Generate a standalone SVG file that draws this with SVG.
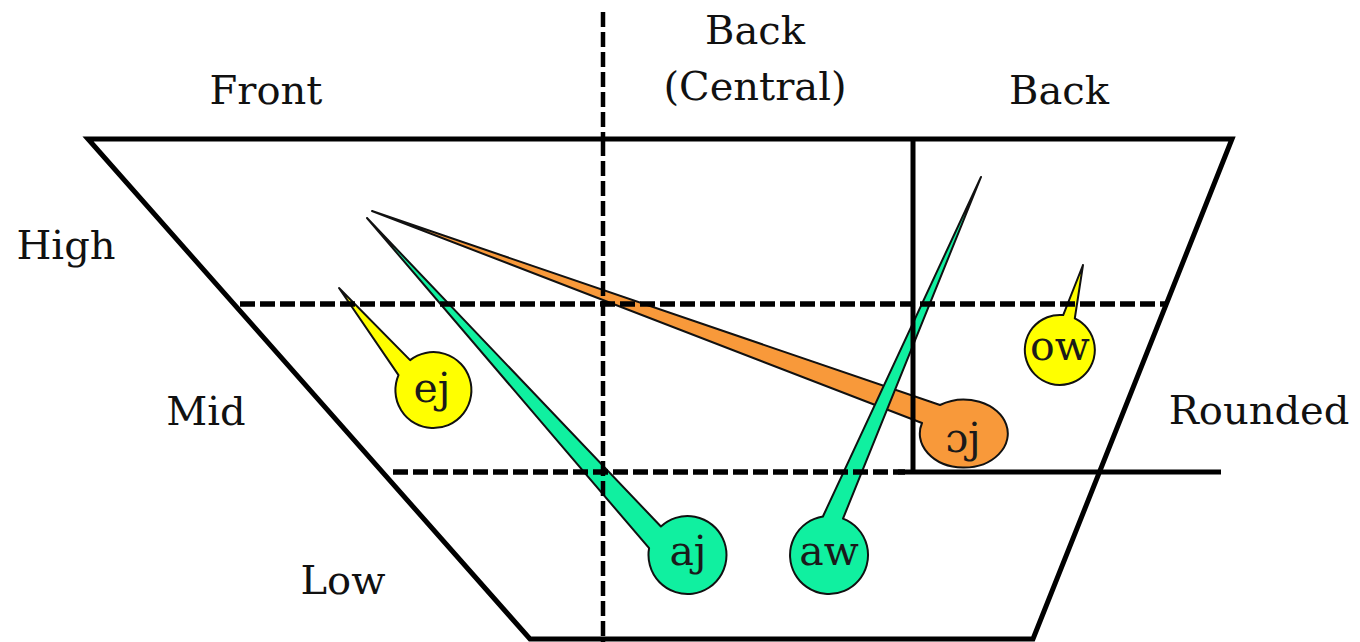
<svg xmlns="http://www.w3.org/2000/svg" width="1360" height="642" viewBox="0 0 1360 642">
<style>
.lbl{font-family:"DejaVu Serif","Liberation Serif",serif;font-size:40px;fill:#111;text-anchor:middle}
.bt{font-family:"DejaVu Serif","Liberation Serif",serif;font-size:41px;fill:#1a1a1a;text-anchor:middle}
.solid{fill:none;stroke:#000;stroke-width:5}
.dash{fill:none;stroke:#000;stroke-width:5.5;stroke-dasharray:15 5}
.vdash{fill:none;stroke:#000;stroke-width:4.5;stroke-dasharray:15 5}
.bub{stroke:#111;stroke-width:2;stroke-linejoin:round}
.y{fill:#FFFF00}.g{fill:#10F0A0}.o{fill:#F8993A}
</style>
<rect width="1360" height="642" fill="#fff"/>
<g id="bubbles">
<g id="oj">
<path class="bub o" d="M372 211 L940 405 A44 34 0 1 1 922 423 Z"/>
<text class="bt" x="963" y="452">ɔj</text>
</g>
<g id="aw">
<path class="bub g" d="M981 177 L843 518.6 A39 39 0 1 1 822.9 516.5 Z"/>
<text class="bt" x="829" y="565">aw</text>
</g>
<g id="aj">
<path class="bub g" d="M367 218 L660.9 526.5 A39 39 0 1 1 649.1 548.2 Z"/>
<text class="bt" x="688" y="565">aj</text>
</g>
<g id="ej">
<path class="bub y" d="M339 288 L410.1 360.1 A38 38 0 1 1 398.5 375.1 Z"/>
<text class="bt" x="432" y="402">ej</text>
</g>
<g id="ow">
<path class="bub y" d="M1083 265 L1074.8 318.3 A35 35 0 1 1 1063.2 315.1 Z"/>
<text class="bt" x="1060" y="360">ow</text>
</g>
</g>
<g id="grid">
<path class="solid" stroke-linejoin="miter" d="M88 139 L1232 139 L1033 639 L530 639 Z"/>
<line class="dash" x1="240" y1="304" x2="1168" y2="304"/>
<line class="dash" x1="393" y1="472" x2="905" y2="472"/>
<line class="solid" x1="898" y1="472" x2="1221" y2="472"/>
<line class="solid" stroke-width="4" x1="913" y1="139" x2="913" y2="472"/>
<line class="vdash" stroke-dasharray="8 4" x1="603" y1="12" x2="603" y2="137"/>
<line class="vdash" x1="603" y1="141" x2="603" y2="642"/>
</g>
<g id="labels">
<text class="lbl" x="266" y="104">Front</text>
<text class="lbl" x="755" y="44">Back</text>
<text class="lbl" x="755" y="100">(Central)</text>
<text class="lbl" x="1059" y="104">Back</text>
<text class="lbl" x="66" y="259">High</text>
<text class="lbl" x="206" y="425">Mid</text>
<text class="lbl" x="343" y="594">Low</text>
<text class="lbl" x="1259" y="424">Rounded</text>
</g>
</svg>
